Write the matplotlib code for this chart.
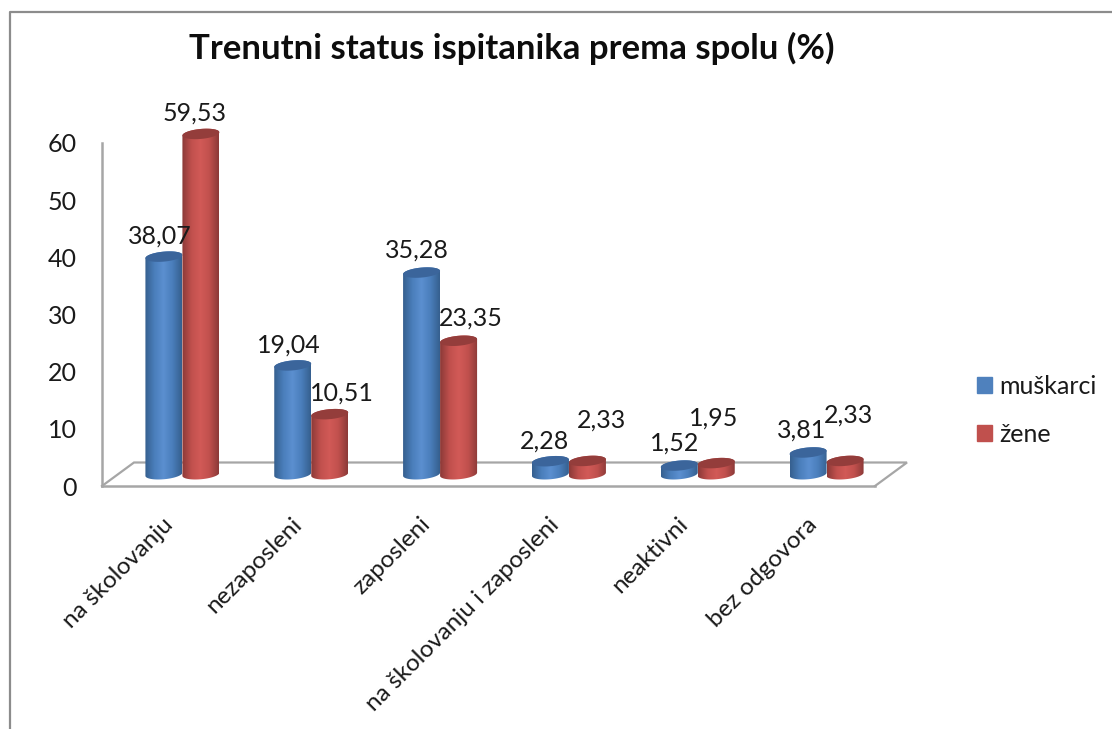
import numpy as np
import matplotlib
matplotlib.use("Agg")
import matplotlib.pyplot as plt
from matplotlib.colors import LinearSegmentedColormap
from matplotlib.lines import Line2D
from matplotlib.patches import Patch, PathPatch
from matplotlib.path import Path
from matplotlib.transforms import ScaledTranslation

plt.rcParams["font.family"] = ["Lato", "DejaVu Sans"]

categories = ["na školovanju", "nezaposleni", "zaposleni",
              "na školovanju i zaposleni", "neaktivni", "bez odgovora"]
muskarci = [38.07, 19.04, 35.28, 2.28, 1.52, 3.81]
zene = [59.53, 10.51, 23.35, 2.33, 1.95, 2.33]
y_ticks = [0, 10, 20, 30, 40, 50, 60]

# label offsets from the top of each cylinder, in pixels
offsets_m = [(-4, 21), (-4, 20), (-5, 22), (-6, 20), (-5, 22), (-6, 22)]
offsets_z = [(-6, 21), (12, 21), (12, 23), (14, 41), (-3, 45), (3, 46)]

W, H = 1112, 729
GRID = "#a6a6a6"
TEXT = "#1a1a1a"

# pixel sizes turned into data units
ux = (875 - 102) / 6
uy = (486 - 143) / 60
depth_x = 32 / ux
depth_y = 23.5 / uy
half_w = 18.5 / ux
semi_h = 5 / uy
tilt = 1.6 / uy
y_top = 68  # room above the 60 line so the tallest cylinder is not clipped

fig = plt.figure(figsize=(W / 100, H / 100), dpi=100)
ax = fig.add_axes([102 / W, 1 - 486 / H, (875 - 102) / W, y_top * uy / H])


def rim(xc, yc, start, stop):
    t = np.linspace(start, stop, 40)
    return xc + half_w * np.cos(t), yc + semi_h * np.sin(t) + tilt * np.cos(t)


def cylinder(xc, base, value, light, mid, dark, top, z):
    cmap = LinearSegmentedColormap.from_list("c", [dark, mid, light, mid, dark])
    x1, y1 = rim(xc, base, np.pi, 2 * np.pi)
    x2, y2 = rim(xc, base + value, 0, np.pi)
    verts = np.column_stack([np.r_[x1, x2], np.r_[y1, y2]])
    body = PathPatch(Path(np.vstack([verts, verts[0]]), closed=True), fc="none", ec="none", zorder=z)
    ax.add_patch(body)
    grad = np.linspace(0, 1, 64).reshape(1, -1)
    im = ax.imshow(grad, cmap=cmap, aspect="auto", zorder=z,
                   extent=[xc - half_w, xc + half_w, base - semi_h - tilt, base + value + semi_h + tilt])
    im.set_clip_path(body)
    xt, yt = rim(xc, base + value, 0, 2 * np.pi)
    ax.fill(xt, yt, color=top, lw=0, zorder=z + 0.5)


for i in range(len(categories)):
    xc = i + 0.5 + depth_x / 2
    base = depth_y / 2
    cylinder(xc - half_w, base, muskarci[i], "#5b8fd0", "#4a7ebb", "#36608f", "#3b659b", 3 + i * 2)
    cylinder(xc + half_w, base, zene[i], "#d25a57", "#c0504d", "#8c3a38", "#943d3b", 4 + i * 2)
    for val, off, sign in ((muskarci[i], offsets_m[i], -1), (zene[i], offsets_z[i], 1)):
        ax.annotate(f"{val:.2f}".replace(".", ","), (xc + sign * half_w, base + val),
                    xytext=(off[0] * 0.72, off[1] * 0.72), textcoords="offset points",
                    ha="center", va="center", fontsize=18, color=TEXT, zorder=40)

# floor of the 3d box
n = len(categories)
ax.plot([0, depth_x, n + depth_x, n], [0, depth_y, depth_y, 0], color=GRID, lw=1.6,
        clip_on=False, zorder=2, solid_joinstyle="miter")

ax.set_xlim(0, n)
ax.set_ylim(0, y_top)
ax.patch.set_visible(False)
ax.set_yticks(y_ticks)
ax.set_yticklabels([str(v) for v in y_ticks], fontsize=18, color=TEXT)
ax.set_xticks(np.arange(n) + 0.5)
ax.set_xticklabels(categories, rotation=45, ha="right", va="center",
                   rotation_mode="anchor", fontsize=17.5, color=TEXT)
ax.tick_params(length=0)
ax.tick_params(axis="y", pad=18)
ax.tick_params(axis="x", pad=0)
shift = ScaledTranslation(3 / 100, -35 / 100, fig.dpi_scale_trans)
for lab in ax.get_xticklabels():
    lab.set_transform(lab.get_transform() + shift)
for side in ("top", "right"):
    ax.spines[side].set_visible(False)
for side in ("left", "bottom"):
    ax.spines[side].set_color(GRID)
    ax.spines[side].set_linewidth(1.8)
ax.spines["left"].set_bounds(0, 60)

fig.text(512 / W, 1 - 48 / H, "Trenutni status ispitanika prema spolu (%)",
         ha="center", va="center", fontsize=25, fontweight="bold", color="#0d0d0d")

handles = [Patch(color="#4f81bd", label="muškarci"), Patch(color="#c0504d", label="žene")]
fig.legend(handles=handles, loc="center left", bbox_to_anchor=(954 / W, 1 - 410 / H), frameon=False,
           fontsize=18, handlelength=0.6, handleheight=0.6, labelspacing=1.0,
           handletextpad=0.3, labelcolor=TEXT)

# outer border of the chart object
border = "#8c8c8c"
fig.add_artist(Line2D([9.5 / W, 9.5 / W, 1], [0, 1 - 12 / H, 1 - 12 / H], color=border, lw=1.6))

fig.savefig("out.png", dpi=100)
